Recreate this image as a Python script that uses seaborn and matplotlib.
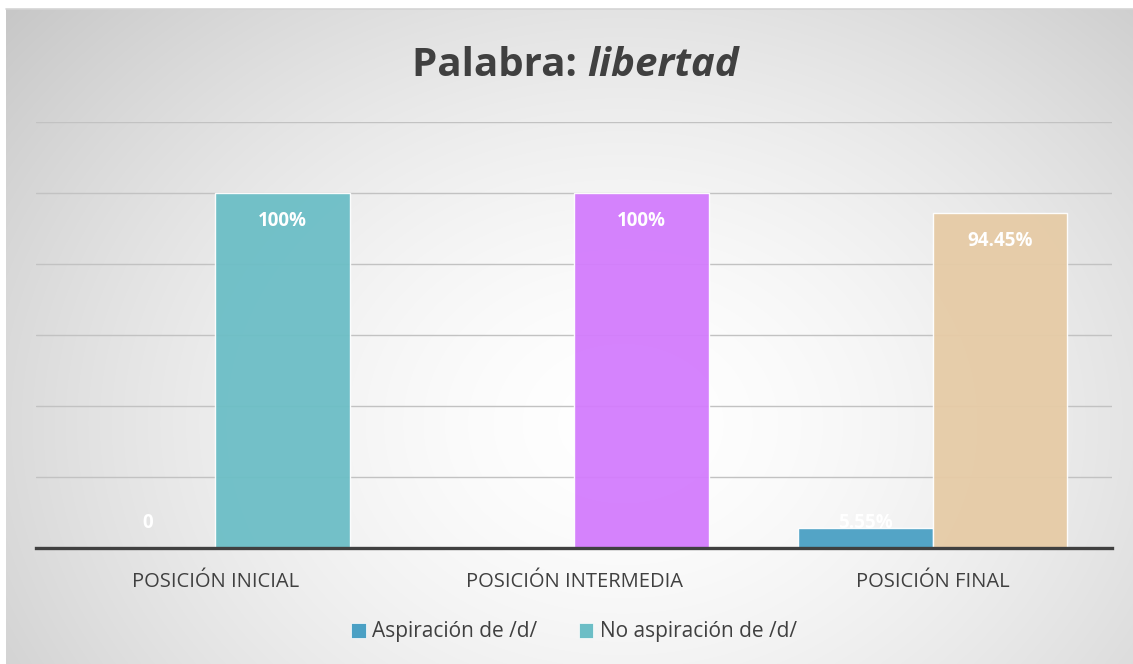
import numpy as np
import pandas as pd
import matplotlib
matplotlib.use("Agg")
import matplotlib.pyplot as plt
import seaborn as sns

# ---- data ----
categories = ["POSICIÓN INICIAL", "POSICIÓN INTERMEDIA", "POSICIÓN FINAL"]
series = ["Aspiración de /d/", "No aspiración de /d/"]
aspiracion = [0, np.nan, 5.55]
no_aspiracion = [100, 100, 94.45]
title_plain = "Palabra: "
title_italic = "libertad"
yticks = [0, 20, 40, 60, 80, 100, 120]

rows = []
for c, a, n in zip(categories, aspiracion, no_aspiracion):
    rows.append((c, series[0], a))
    rows.append((c, series[1], n))
df = pd.DataFrame(rows, columns=["pos", "serie", "valor"]).dropna()

# ---- style ----
sns.set_style("white")
plt.rcParams["font.family"] = ["Open Sans", "DejaVu Sans"]

W, H = 1133, 664
fig = plt.figure(figsize=(W / 100, H / 100), dpi=100)
fig.patch.set_facecolor("white")

# radial gradient background
bg = fig.add_axes([6 / W, 0, 1 - 6 / W, 1 - 9 / H], zorder=-10)
yy, xx = np.mgrid[0:H, 0:W]
cx, cy = 620, 420
r = np.sqrt(((xx - cx) / 700.0) ** 2 + ((yy - cy) / 560.0) ** 2) / 1.16
g = np.clip(1.0 - 0.22 * np.clip(r, 0, 1.1) ** 1.6, 0, 1)
bg.imshow(np.dstack([g, g, g]), aspect="auto", extent=[0, 1, 0, 1], origin="upper")
bg.set_axis_off()
fig.add_artist(plt.Line2D([6 / W, 1], [1 - 9 / H, 1 - 9 / H], color="#d4d4d4", lw=1.2,
                          transform=fig.transFigure))

ax = fig.add_axes([36 / W, 1 - 548 / H, (1112 - 36) / W, (548 - 122) / H], zorder=1)
ax.set_facecolor("none")

palette = {series[0]: "#4aa0c4", series[1]: "#6cbec6"}
sns.barplot(data=df, x="pos", y="valor", hue="serie", order=categories, hue_order=series,
            palette=palette, width=0.75, ax=ax, zorder=3, legend=True)

bar_colors = {
    (0, 0): "#4aa0c4", (0, 1): "#6cbec6",
    (1, 0): "#4aa0c4", (1, 1): "#d37cfd",
    (2, 0): "#4aa0c4", (2, 1): "#e6cba6",
}

for p in ax.patches:
    if p.get_width() < 0.05 or not p.get_label().startswith("_"):
        continue
    xc = p.get_x() + p.get_width() / 2
    ci = int(round(xc))
    si = 0 if xc < ci else 1
    p.set_facecolor(bar_colors[(ci, si)])
    p.set_alpha(0.95)
    p.set_edgecolor((1, 1, 1, 0.35))
    p.set_linewidth(1.0)
    v = p.get_height()
    if np.isnan(v):
        continue
    lbl = "0" if v == 0 else f"{v:g}%"
    ly = max(v - 7.9, 7.0)
    ax.text(xc, ly, lbl, ha="center", va="center", color="white", fontsize=13.5,
            fontweight="bold", zorder=5)

ax.set_ylim(0, 120)
ax.set_xlim(-0.5, 2.5)
ax.set_yticks(yticks)
for t in yticks[1:]:
    ax.axhline(t, color="#c2c2c2", lw=1.0, zorder=1)
ax.set_yticklabels([])
ax.tick_params(axis="y", length=0)
ax.tick_params(axis="x", length=0, pad=17, labelsize=14.5, labelcolor="#404040")
ax.set_xlabel("")
ax.set_ylabel("")
for s in ["top", "right", "left"]:
    ax.spines[s].set_visible(False)
ax.spines["bottom"].set_color("#404040")
ax.spines["bottom"].set_linewidth(2.4)
ax.spines["bottom"].set_zorder(6)

leg = ax.legend(loc="center", bbox_to_anchor=(0.5, (548 - 632) / (548 - 122)), ncol=2,
                frameon=False, fontsize=15, handlelength=0.7, handleheight=0.7,
                handletextpad=0.3, columnspacing=2.0)
for t in leg.get_texts():
    t.set_color("#404040")
for h, c in zip(leg.legend_handles, [palette[s] for s in series]):
    h.set_facecolor(c)
    h.set_edgecolor("white")
    h.set_linewidth(0.5)

# title: bold + bold italic
fig.canvas.draw()
rend = fig.canvas.get_renderer()
ty = 1 - 65 / H
t1 = fig.text(0, ty, title_plain, fontsize=29, fontweight="bold", color="#404040",
              va="center", ha="left")
t2 = fig.text(0, ty, title_italic, fontsize=29, fontweight="bold", style="italic",
              color="#404040", va="center", ha="left")
w1 = t1.get_window_extent(rend).width
w2 = t2.get_window_extent(rend).width
x0 = 575 - (w1 + w2) / 2
t1.set_x(x0 / W)
t2.set_x((x0 + w1) / W)

fig.savefig("out.png", dpi=100)
